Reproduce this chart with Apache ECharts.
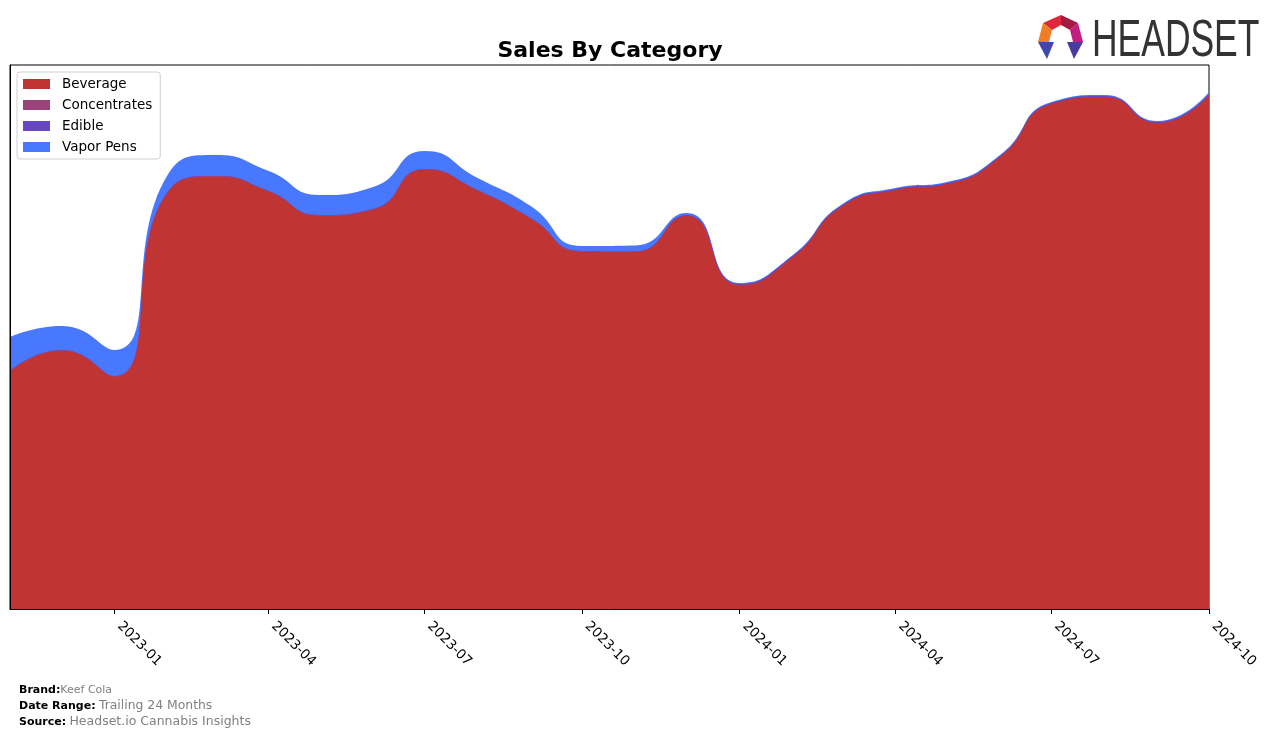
<!DOCTYPE html>
<html>
<head>
<meta charset="utf-8">
<script src="https://cdn.jsdelivr.net/npm/echarts@6/dist/echarts.min.js"></script>
<style>
html,body{margin:0;padding:0;background:#fff;}
#chart{width:1276px;height:738px;}
</style>
</head>
<body>
<div id="chart"></div>
<script>
// Monthly periods (first day of month)
const months = ['2022-11','2022-12','2023-01','2023-02','2023-03','2023-04','2023-05','2023-06',
  '2023-07','2023-08','2023-09','2023-10','2023-11','2023-12','2024-01','2024-02','2024-03',
  '2024-04','2024-05','2024-06','2024-07','2024-08','2024-09','2024-10'];
// Sales (relative units)
const beverage = [237,258,232,416,432,417,393,399,439,418,390,357,357,393,324,352,403,419,425,452,505,512,486,514];
const concentrates = [1,1,1,1,1,1,1,1,1,1,1,1,0.5,0,0,0,0,0,0,0,0,0,0,0];
const edible = [0,0,0,0,0,0,0,0,0,0,0,0,0,1,1,1,1,1,1,1,1,1,1,1];
const vaporPens = [34,24,26,17,21,20,20,22,18,12,12,5,6,2,1,1,1,1,1,1,1,1,1,2];
const tickLabels = ['2023-01','2023-04','2023-07','2023-10','2024-01','2024-04','2024-07','2024-10'];
const seriesNames = ['Beverage','Concentrates','Edible','Vapor Pens'];
const seriesColors = ['#c13434','#9a427a','#6747c2','#4878fd'];

function ts(m){ const [y,mo]=m.split('-').map(Number); return Date.UTC(y,mo-1,1); }
function fmt(v){ const d=new Date(v); return d.getUTCFullYear()+'-'+String(d.getUTCMonth()+1).padStart(2,'0'); }
const xs = months.map(ts);
const tickVals = tickLabels.map(ts);
const allData = [beverage, concentrates, edible, vaporPens];
// stacked tops (running sums of the category arrays)
const stackedTops = allData.map((arr, i) => arr.map((_, j) => {
  let s = 0; for (let k = 0; k <= i; k++) s += allData[k][j]; return s;
}));

const chart = echarts.init(document.getElementById('chart'), null, {renderer:'canvas'});
const option = {
  animation: false,
  backgroundColor: '#fff',
  textStyle: { fontFamily: 'DejaVu Sans' },
  grid: { left: 10, right: 67, top: 65, bottom: 129, show: true, borderColor: '#000', borderWidth: 1, backgroundColor: 'transparent' },
  legend: {
    orient: 'vertical', left: 17, top: 72,
    padding: [5, 8, 5, 6],
    itemWidth: 27, itemHeight: 10, itemGap: 7,
    icon: 'rect',
    borderColor: '#d0d0d0', borderWidth: 1, borderRadius: 3,
    backgroundColor: 'rgba(255,255,255,0.8)',
    textStyle: { fontFamily: 'DejaVu Sans', fontSize: 13.5, color: '#000', lineHeight: 14, padding: [0,0,0,7] },
    data: seriesNames
  },
  xAxis: {
    type: 'value',
    min: xs[0], max: xs[xs.length-1],
    z: 10,
    splitLine: { show: false },
    axisLine: { show: true, onZero: false, lineStyle: { color: '#000', width: 1 } },
    axisTick: { show: true, length: 5, lineStyle: { color: '#000' }, customValues: tickVals },
    axisLabel: { customValues: tickVals, formatter: fmt, rotate: -45, margin: 10, padding: [0,0,0,7], fontFamily: 'DejaVu Sans', fontSize: 13.5, color: '#000', hideOverlap: false }
  },
  yAxis: {
    type: 'value', min: 0, max: 544, z: 10,
    splitLine: { show: false },
    axisLine: { show: true, lineStyle: { color: '#000', width: 1 } },
    axisTick: { show: false }, axisLabel: { show: false }
  },
  series: seriesNames.map((name, i) => ({
    name, type: 'line', smooth: 0.55,
    z: 6 - i,
    showSymbol: false, symbol: 'none',
    color: seriesColors[i],
    lineStyle: { width: 0 },
    areaStyle: { color: seriesColors[i], opacity: 1, origin: 'start' },
    data: xs.map((x, j) => [x, stackedTops[i][j]])
  })),
  graphic: [
    { type: 'text', x: 610, y: 51, style: { text: 'Sales By Category', fontFamily: 'DejaVu Sans', fontWeight: 'bold', fontSize: 22, fill: '#000', textAlign: 'center', textVerticalAlign: 'middle' } },
    { type: 'text', x: 19, y: 690, style: { text: '{b|Brand:}{g|Keef Cola}', textVerticalAlign: 'middle',
      rich: { b: { fontFamily: 'DejaVu Sans', fontWeight: 'bold', fontSize: 11, fill: '#000' }, g: { fontFamily: 'DejaVu Sans', fontSize: 11, fill: '#808080' } } } },
    { type: 'text', x: 19, y: 706, style: { text: '{b|Date Range:} {g|Trailing 24 Months}', textVerticalAlign: 'middle',
      rich: { b: { fontFamily: 'DejaVu Sans', fontWeight: 'bold', fontSize: 11, fill: '#000' }, g: { fontFamily: 'DejaVu Sans', fontSize: 12.4, fill: '#808080' } } } },
    { type: 'text', x: 19, y: 722, style: { text: '{b|Source:} {g|Headset.io Cannabis Insights}', textVerticalAlign: 'middle',
      rich: { b: { fontFamily: 'DejaVu Sans', fontWeight: 'bold', fontSize: 11, fill: '#000' }, g: { fontFamily: 'DejaVu Sans', fontSize: 12.5, fill: '#808080' } } } },
    // Logo
    { type: 'polygon', shape: { points: [[1043,23],[1061,15],[1061,25],[1052,30]] }, style: { fill: '#e0283c' } },
    { type: 'polygon', shape: { points: [[1061,15],[1078,23],[1070,30],[1061,25]] }, style: { fill: '#a51a40' } },
    { type: 'polygon', shape: { points: [[1078,23],[1083,42],[1073,42],[1070,30]] }, style: { fill: '#c41f80' } },
    { type: 'polygon', shape: { points: [[1043,23],[1052,30],[1049,42],[1038,42]] }, style: { fill: '#f07e26' } },
    { type: 'polygon', shape: { points: [[1038,42],[1054,42],[1047,59]] }, style: { fill: '#3d4aa8' } },
    { type: 'polygon', shape: { points: [[1067,42],[1083,42],[1074,59]] }, style: { fill: '#4b3aa0' } },
    { type: 'text', x: 1092, y: 42, scaleX: 0.695, style: { text: 'HEADSET', fontFamily: 'Liberation Sans', fontSize: 51, fill: '#333333', textVerticalAlign: 'middle' } }
  ]
};
chart.setOption(option);
</script>
</body>
</html>
